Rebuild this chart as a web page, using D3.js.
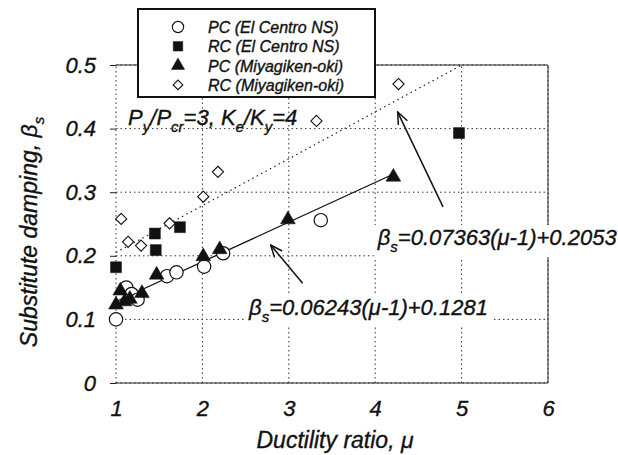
<!DOCTYPE html>
<html>
<head>
<meta charset="utf-8">
<script src="https://cdn.jsdelivr.net/npm/d3@7/dist/d3.min.js"></script>
<style>
  body { margin: 0; background: #fff; }
  text { font-family: "Liberation Sans", Arial, sans-serif; font-style: italic; fill: #111; stroke: #111; stroke-width: 0.35px; }
</style>
</head>
<body>
<script>
// data
var pcElCentro = [[1.0,0.100],[1.12,0.150],[1.18,0.140],[1.25,0.131],[1.59,0.168],[1.70,0.174],[2.02,0.183],[2.24,0.204],[3.37,0.256]];
var rcElCentro = [[1.0,0.182],[1.45,0.235],[1.46,0.209],[1.74,0.245],[4.97,0.393]];
var pcMiyagi = [[1.0,0.123],[1.05,0.145],[1.10,0.128],[1.16,0.132],[1.30,0.141],[1.47,0.170],[2.01,0.199],[2.20,0.210],[2.99,0.257],[4.21,0.324]];
var rcMiyagi = [[1.06,0.258],[1.14,0.222],[1.29,0.216],[1.62,0.251],[2.01,0.293],[2.18,0.332],[3.32,0.412],[4.27,0.470]];

var xTicks = [1, 2, 3, 4, 5, 6];
var yTicks = [0, 0.1, 0.2, 0.3, 0.4, 0.5];
var fitPC = { a: 0.06243, b: 0.1281, from: 1, to: 4.2, label: "=0.06243(\u03bc-1)+0.1281" };
var fitRC = { a: 0.07363, b: 0.2053, from: 1, to: 5, label: "=0.07363(\u03bc-1)+0.2053" };
var legendNames = ["PC (El Centro NS)", "RC (El Centro NS)", "PC (Miyagiken-oki)", "RC (Miyagiken-oki)"];

var W = 618, H = 455;
var svg = d3.select("body").append("svg").attr("width", W).attr("height", H);

var x = d3.scaleLinear().domain([1, 6]).range([116, 548]);
var y = d3.scaleLinear().domain([0, 0.5]).range([383, 65]);

// grid
svg.append("g").selectAll("line").data(xTicks).enter().append("line")
  .attr("x1", d => x(d)).attr("x2", d => x(d)).attr("y1", y(0)).attr("y2", y(0.5))
  .attr("stroke", "#333").attr("stroke-width", 1).attr("stroke-dasharray", "1.5,3");
svg.append("g").selectAll("line").data(yTicks).enter().append("line")
  .attr("x1", x(1)).attr("x2", x(6)).attr("y1", d => y(d)).attr("y2", d => y(d))
  .attr("stroke", "#333").attr("stroke-width", 1).attr("stroke-dasharray", "1.5,3");

// frame (top, right, bottom)
svg.append("path")
  .attr("d", "M" + x(1) + "," + y(0.5) + "H" + x(6) + "V" + y(0) + "H" + x(1))
  .attr("fill", "none").attr("stroke", "#222").attr("stroke-width", 1);

// y axis ticks and labels
var yAxis = d3.axisLeft(y).tickValues(yTicks).tickSize(6).tickPadding(10)
  .tickFormat(d => d === 0 ? "0" : d3.format(".1f")(d));
var gy = svg.append("g").attr("transform", "translate(" + x(1) + ",0)").call(yAxis);
gy.select(".domain").remove();
gy.selectAll("line").attr("stroke", "#222");
gy.selectAll("text").attr("font-size", 22).attr("font-family", null).attr("dx", -4);

// x axis labels
var xAxis = d3.axisBottom(x).tickValues(xTicks).tickSize(0).tickPadding(17).tickFormat(d3.format("d"));
var gx = svg.append("g").attr("transform", "translate(0," + y(0) + ")").call(xAxis);
gx.select(".domain").remove();
gx.selectAll("text").attr("font-size", 22).attr("font-family", null);

// axis titles
svg.append("text").attr("x", 335).attr("y", 448).attr("text-anchor", "middle")
  .attr("font-size", 23).text("Ductility ratio, \u03bc");
var yt = svg.append("text").attr("text-anchor", "middle").attr("font-size", 23)
  .attr("transform", "translate(37,232)rotate(-90)");
yt.append("tspan").text("Substitute damping, \u03b2");
yt.append("tspan").attr("font-size", 15).attr("dy", 7).text("s");

// fitted lines
function fitPath(f) {
  return d3.line().x(d => x(d)).y(d => y(f.a * (d - 1) + f.b))([f.from, f.to]);
}
svg.append("path").attr("d", fitPath(fitPC)).attr("fill", "none")
  .attr("stroke", "#111").attr("stroke-width", 1.3);
svg.append("path").attr("d", fitPath(fitRC)).attr("fill", "none")
  .attr("stroke", "#222").attr("stroke-width", 1.2).attr("stroke-dasharray", "1.5,3.5");

// symbols
var sym = {
  circle: d3.symbol().type(d3.symbolCircle).size(140),
  square: d3.symbol().type(d3.symbolSquare).size(120),
  triangle: d3.symbol().type(d3.symbolTriangle).size(95),
  diamond: d3.symbol().type(d3.symbolDiamond2).size(80)
};
function drawSeries(data, kind, filled, sw) {
  svg.append("g").selectAll("path").data(data).enter().append("path")
    .attr("d", sym[kind])
    .attr("transform", d => "translate(" + x(d[0]) + "," + y(d[1]) + ")")
    .attr("fill", filled ? "#111" : "#fff").attr("stroke", "#111").attr("stroke-width", sw);
}
drawSeries(rcMiyagi, "diamond", false, 1.1);
drawSeries(rcElCentro, "square", true, 0.5);
drawSeries(pcElCentro, "circle", false, 1.2);
drawSeries(pcMiyagi, "triangle", true, 0.5);

// legend
var lg = svg.append("g");
lg.append("rect").attr("x", 138).attr("y", 9).attr("width", 237).attr("height", 88)
  .attr("fill", "#fff").attr("stroke", "#111").attr("stroke-width", 2);
var legendKinds = [["circle", false, 1.1], ["square", true, 0.5], ["triangle", true, 0.5], ["diamond", false, 1.1]];
var legendSym = {
  circle: d3.symbol().type(d3.symbolCircle).size(100),
  square: d3.symbol().type(d3.symbolSquare).size(90),
  triangle: d3.symbol().type(d3.symbolTriangle).size(75),
  diamond: d3.symbol().type(d3.symbolDiamond2).size(60)
};
legendNames.forEach(function (name, i) {
  var ry = 27 + i * 19.3;
  var k = legendKinds[i];
  lg.append("path").attr("d", legendSym[k[0]]).attr("transform", "translate(178," + ry + ")")
    .attr("fill", k[1] ? "#111" : "#fff").attr("stroke", "#111").attr("stroke-width", k[2]);
  lg.append("text").attr("x", 208).attr("y", ry + 6).attr("font-size", 16).text(name);
});

// Py/Pcr annotation
var pt = svg.append("text").attr("x", x(1.14)).attr("y", y(0.406)).attr("font-size", 22);
pt.append("tspan").text("P");
pt.append("tspan").attr("font-size", 15).attr("dy", 7).text("y");
pt.append("tspan").attr("dy", -7).text("/P");
pt.append("tspan").attr("font-size", 15).attr("dy", 7).text("cr");
pt.append("tspan").attr("dy", -7).text("=3, K");
pt.append("tspan").attr("font-size", 15).attr("dy", 7).text("e");
pt.append("tspan").attr("dy", -7).text("/K");
pt.append("tspan").attr("font-size", 15).attr("dy", 7).text("y");
pt.append("tspan").attr("dy", -7).text("=4");

// equation labels with white background
function eqLabel(f, mx, my) {
  var g = svg.append("g");
  var bg = g.append("rect").attr("fill", "#fff");
  var t = g.append("text").attr("x", x(mx)).attr("y", y(my)).attr("font-size", 22);
  t.append("tspan").text("\u03b2");
  t.append("tspan").attr("font-size", 15).attr("dy", 7).text("s");
  t.append("tspan").attr("dy", -7).text(f.label);
  var bb = t.node().getBBox();
  bg.attr("x", bb.x - 3).attr("y", bb.y).attr("width", bb.width + 6).attr("height", bb.height + 2);
}
eqLabel(fitRC, 4.03, 0.217);
eqLabel(fitPC, 2.54, 0.107);

// arrows
var arrows = [
  { from: [4.785, 0.277], to: [4.26, 0.426] },
  { from: [3.16, 0.157], to: [2.79, 0.217] }
];
svg.append("defs").append("marker").attr("id", "head")
  .attr("viewBox", "0 0 14 12").attr("refX", 13).attr("refY", 6)
  .attr("markerWidth", 14).attr("markerHeight", 12).attr("markerUnits", "userSpaceOnUse")
  .attr("orient", "auto")
  .append("path").attr("d", "M1,1 L13,6 L1,11").attr("fill", "none")
  .attr("stroke", "#111").attr("stroke-width", 1.5);
svg.append("g").selectAll("line").data(arrows).enter().append("line")
  .attr("x1", d => x(d.from[0])).attr("y1", d => y(d.from[1]))
  .attr("x2", d => x(d.to[0])).attr("y2", d => y(d.to[1]))
  .attr("stroke", "#111").attr("stroke-width", 1.5).attr("marker-end", "url(#head)");
</script>
</body>
</html>
